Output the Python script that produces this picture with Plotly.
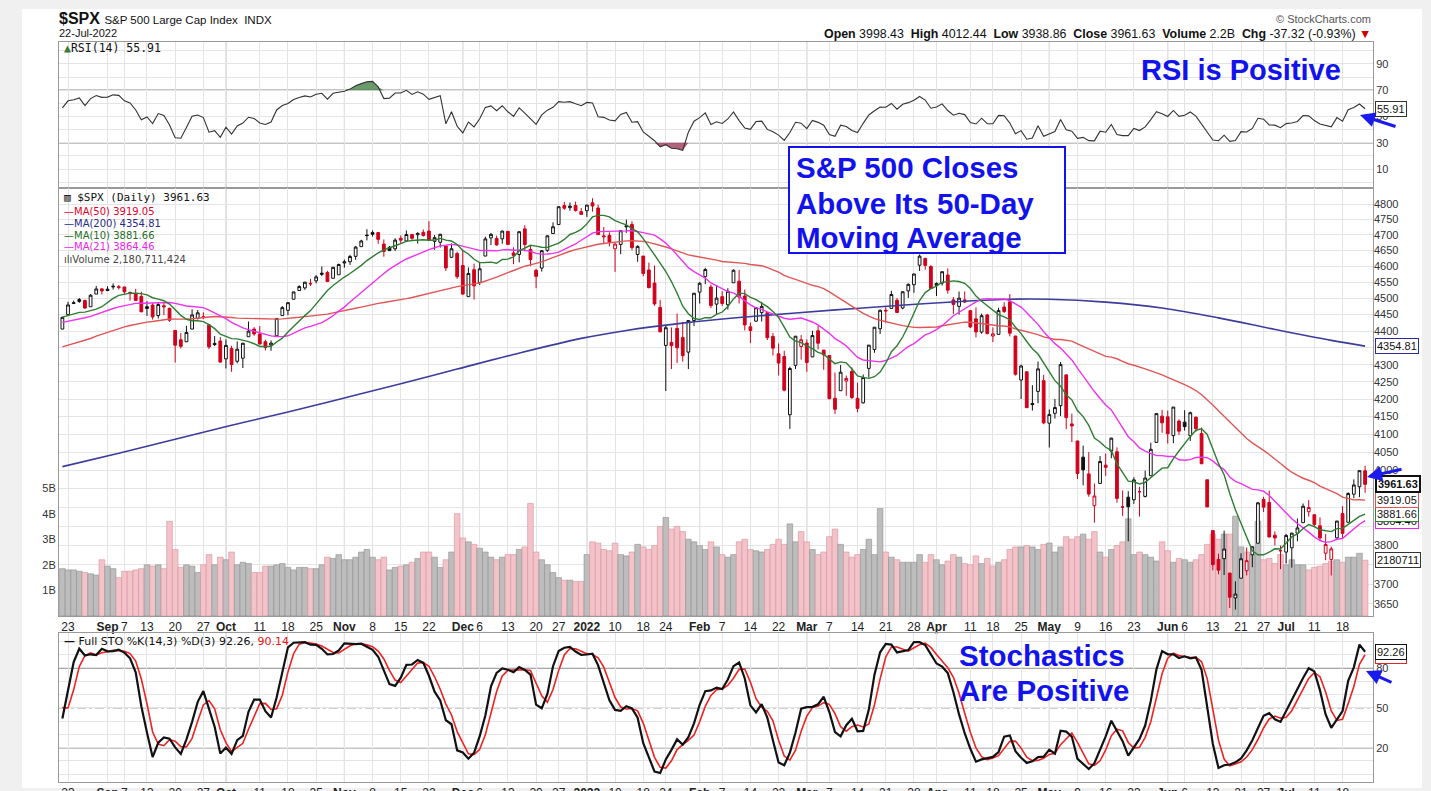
import numpy as np
import pandas as pd
import plotly.graph_objects as go

# ---------------- data ----------------
# warm-up closes (Jun 11 - Aug 19, 2021) used for the moving averages / oscillators
WARM_CLOSE = [4247.44, 4255.15, 4246.59, 4223.70, 4221.86, 4166.45, 4224.79, 4246.44, 4241.84, 4266.49,
              4280.70, 4290.61, 4291.80, 4297.50,
              4319.94, 4352.34, 4343.54, 4358.13, 4320.82, 4369.55, 4384.63, 4369.21, 4374.30, 4360.03,
              4327.16, 4258.49, 4323.06, 4358.69, 4367.48, 4411.79, 4422.30, 4401.46, 4400.64, 4419.15, 4395.26,
              4387.16, 4423.15, 4402.66, 4429.10, 4436.52, 4432.35, 4436.75, 4447.70, 4460.83, 4468.00,
              4479.71, 4448.08, 4400.27, 4405.80]
WARM_HIGH = [4415, 4415, 4429, 4412, 4422, 4424, 4418, 4430, 4440, 4438, 4445, 4449, 4461, 4468, 4480, 4470, 4454, 4418]
WARM_LOW = [4360, 4387, 4404, 4389, 4385, 4373, 4399, 4402, 4421, 4424, 4430, 4436, 4436, 4461, 4437, 4424, 4400, 4367]

# daily candles, Aug 20 2021 - Jul 22 2022
OPEN = [4406, 4450, 4484, 4490, 4493, 4474, 4513, 4529,
        4528, 4535, 4533, 4535, 4518, 4514, 4506, 4474, 4479, 4447, 4477, 4469, 4402, 4374, 4368, 4406, 4438, 4442, 4419, 4363, 4370,
        4317, 4348, 4310, 4319, 4383, 4406, 4391, 4368, 4358, 4386, 4447, 4463, 4497, 4524, 4532, 4546, 4554, 4578, 4580, 4562, 4573,
        4610, 4614, 4631, 4662, 4699, 4707, 4707, 4670, 4660, 4655, 4689, 4680, 4701, 4700, 4708, 4712, 4679, 4676, 4664, 4628, 4640,
        4602, 4505, 4589, 4549, 4632, 4690, 4688, 4687, 4711, 4642, 4637, 4719, 4653, 4587, 4594, 4650, 4704, 4733, 4795, 4788, 4795, 4775,
        4778, 4804, 4787, 4693, 4698, 4655, 4669, 4729, 4733, 4637, 4632, 4588, 4547, 4472, 4357, 4366, 4408, 4381, 4337, 4432,
        4519, 4567, 4535, 4482, 4505, 4480, 4548, 4553, 4507, 4413, 4430, 4456, 4456, 4384, 4332, 4324, 4155, 4298, 4354,
        4364, 4323, 4401, 4343, 4327, 4202, 4224, 4252, 4280, 4202, 4189, 4289, 4345, 4407, 4463, 4469, 4494, 4470, 4523, 4542, 4603, 4624, 4599,
        4540, 4547, 4572, 4495, 4475, 4495, 4462, 4437, 4397, 4449, 4385, 4390, 4473, 4489, 4385, 4255, 4279, 4187, 4222, 4253,
        4131, 4159, 4181, 4270, 4129, 4081, 4036, 3990, 3904, 3964, 4014, 4053, 4051, 3900, 3927, 3920, 3942, 3929, 3985, 4077, 4151,
        4149, 4096, 4137, 4134, 4096, 4148, 4102, 3974, 3838, 3763, 3765, 3728, 3665, 3715, 3734, 3775, 3805, 3921, 3913, 3826, 3786,
        3782, 3793, 3831, 3859, 3888, 3880, 3851, 3779, 3763, 3819, 3883, 3860, 3935, 3955, 3998.43]
HIGH = [4443, 4489, 4493, 4501, 4496, 4513, 4538, 4532,
        4537, 4546, 4541, 4535, 4521, 4529, 4520, 4491, 4485, 4486, 4486, 4471, 4403, 4394, 4416, 4466, 4464, 4457, 4420, 4385, 4382,
        4375, 4356, 4369, 4365, 4429, 4412, 4415, 4374, 4372, 4439, 4476, 4488, 4520, 4540, 4551, 4560, 4572, 4599, 4585, 4598, 4608,
        4621, 4636, 4664, 4684, 4718, 4714, 4708, 4685, 4664, 4689, 4698, 4714, 4701, 4708, 4717, 4744, 4699, 4703, 4664, 4672, 4646,
        4652, 4596, 4608, 4612, 4694, 4706, 4697, 4713, 4711, 4660, 4712, 4731, 4666, 4592, 4651, 4698, 4740, 4792, 4807, 4805, 4808, 4787,
        4797, 4819, 4798, 4725, 4708, 4673, 4715, 4749, 4744, 4666, 4632, 4611, 4602, 4495, 4418, 4411, 4453, 4428, 4432, 4516,
        4550, 4595, 4542, 4540, 4522, 4531, 4590, 4588, 4527, 4426, 4473, 4489, 4456, 4394, 4363, 4341, 4294, 4385, 4388,
        4375, 4401, 4416, 4343, 4327, 4277, 4299, 4268, 4292, 4247, 4271, 4358, 4412, 4465, 4473, 4523, 4501, 4521, 4546, 4576, 4637, 4627, 4603,
        4549, 4583, 4593, 4504, 4521, 4521, 4464, 4472, 4453, 4452, 4411, 4471, 4488, 4513, 4386, 4300, 4279, 4240, 4309, 4270,
        4170, 4200, 4308, 4270, 4158, 4081, 4068, 4050, 3964, 4039, 4046, 4090, 4063, 3945, 3943, 3981, 3955, 3999, 4076, 4159, 4169,
        4167, 4177, 4142, 4168, 4164, 4150, 4119, 3974, 3838, 3778, 3838, 3728, 3707, 3779, 3794, 3797, 3914, 3928, 3945, 3836, 3799,
        3829, 3832, 3870, 3910, 3919, 3880, 3873, 3829, 3796, 3864, 3903, 3940, 3975, 3999, 4012.44]
LOW = [4406, 4450, 4482, 4486, 4468, 4474, 4513, 4512,
       4522, 4527, 4527, 4513, 4493, 4493, 4457, 4446, 4435, 4438, 4448, 4428, 4306, 4348, 4367, 4406, 4435, 4436, 4346, 4355, 4306,
       4289, 4279, 4304, 4290, 4383, 4386, 4360, 4342, 4341, 4386, 4447, 4448, 4497, 4524, 4526, 4538, 4546, 4569, 4551, 4562, 4573,
       4595, 4604, 4620, 4662, 4682, 4694, 4671, 4630, 4648, 4648, 4673, 4679, 4684, 4672, 4694, 4680, 4652, 4659, 4585, 4626, 4560,
       4510, 4505, 4496, 4541, 4632, 4667, 4665, 4671, 4667, 4606, 4612, 4647, 4600, 4531, 4583, 4645, 4703, 4733, 4781, 4778, 4775, 4766,
       4758, 4775, 4699, 4672, 4663, 4582, 4638, 4706, 4650, 4614, 4568, 4531, 4477, 4396, 4223, 4287, 4305, 4309, 4287, 4415,
       4484, 4544, 4470, 4451, 4476, 4465, 4548, 4484, 4402, 4364, 4429, 4429, 4373, 4327, 4268, 4222, 4115, 4287, 4315,
       4279, 4322, 4345, 4285, 4199, 4157, 4224, 4209, 4200, 4162, 4187, 4262, 4335, 4391, 4425, 4469, 4456, 4466, 4501, 4517, 4585, 4589, 4530,
       4507, 4539, 4514, 4452, 4450, 4485, 4409, 4381, 4392, 4390, 4367, 4390, 4455, 4384, 4268, 4200, 4175, 4167, 4188, 4128,
       4063, 4144, 4151, 4114, 4078, 3976, 3959, 3928, 3859, 3964, 3984, 4033, 3912, 3877, 3810, 3909, 3875, 3926, 3985, 4077, 4104,
       4074, 4075, 4098, 4110, 4081, 4107, 4017, 3900, 3735, 3725, 3723, 3640, 3636, 3715, 3722, 3743, 3805, 3887, 3820, 3799, 3738,
       3753, 3742, 3810, 3859, 3875, 3847, 3812, 3761, 3722, 3817, 3819, 3860, 3924, 3927, 3938.86]
CLOSE = [4441.67, 4479.53, 4486.23, 4496.19, 4469.91, 4509.37, 4528.79, 4522.68,
         4524.09, 4536.95, 4535.43, 4520.03, 4514.07, 4493.28, 4458.58, 4468.73, 4443.05, 4480.70, 4473.75, 4432.99, 4357.73, 4354.19, 4395.64, 4448.98, 4455.48, 4443.11, 4352.63, 4359.46, 4307.54,
         4357.04, 4300.46, 4345.72, 4363.55, 4399.76, 4391.34, 4361.19, 4350.65, 4363.80, 4438.26, 4471.37, 4486.46, 4519.63, 4536.19, 4549.78, 4544.90, 4566.48, 4574.79, 4551.68, 4596.42, 4605.38,
         4613.67, 4630.65, 4660.57, 4680.06, 4697.53, 4701.70, 4685.25, 4646.71, 4649.27, 4682.85, 4682.80, 4700.90, 4688.67, 4704.54, 4697.96, 4682.94, 4690.70, 4701.46, 4594.62, 4655.27, 4567.00,
         4513.04, 4577.10, 4538.43, 4591.67, 4686.75, 4701.21, 4667.45, 4712.02, 4668.97, 4634.09, 4709.85, 4668.67, 4620.64, 4568.02, 4649.23, 4696.56, 4725.79, 4791.19, 4786.35, 4793.06, 4778.73, 4766.18,
         4796.56, 4793.54, 4700.58, 4696.05, 4677.03, 4670.29, 4713.07, 4726.35, 4659.03, 4662.85, 4577.11, 4532.76, 4482.73, 4397.94, 4410.13, 4356.45, 4349.93, 4326.51, 4431.85, 4515.55,
         4546.54, 4589.38, 4477.44, 4500.53, 4483.87, 4521.54, 4587.18, 4504.08, 4418.64, 4401.67, 4471.07, 4475.01, 4380.26, 4348.87, 4304.76, 4225.50, 4288.70, 4384.65, 4373.94,
         4306.26, 4386.54, 4363.49, 4328.87, 4201.09, 4170.70, 4277.88, 4259.52, 4204.31, 4173.11, 4262.45, 4357.86, 4411.67, 4463.12, 4461.18, 4511.61, 4456.24, 4520.16, 4543.06, 4575.52, 4631.60, 4602.45, 4530.41,
         4545.86, 4582.64, 4525.12, 4481.15, 4500.21, 4488.28, 4412.53, 4397.45, 4446.59, 4392.59, 4391.69, 4462.21, 4459.45, 4393.66, 4271.78, 4296.12, 4175.20, 4183.96, 4287.50, 4131.93,
         4155.38, 4175.48, 4300.17, 4146.87, 4123.34, 3991.24, 4001.05, 3935.18, 3930.08, 4023.89, 4008.01, 4088.85, 3923.68, 3900.79, 3901.36, 3973.75, 3941.48, 3978.73, 4057.84, 4158.24, 4132.15,
         4101.23, 4176.82, 4108.54, 4121.43, 4160.68, 4115.77, 4017.82, 3900.86, 3749.63, 3735.48, 3789.99, 3666.77, 3674.84, 3764.79, 3759.89, 3795.73, 3911.74, 3900.11, 3821.55, 3818.83, 3785.38,
         3825.33, 3831.39, 3845.08, 3902.62, 3899.38, 3854.43, 3818.80, 3801.78, 3790.38, 3863.16, 3830.85, 3936.69, 3959.90, 3998.95, 3961.63]
VOLUME_B = [1.85, 1.80, 1.80, 1.75, 1.70, 1.65, 1.60, 2.20,
            1.95, 1.85, 1.50, 1.75, 1.75, 1.80, 1.85, 2.00, 1.95, 2.00, 1.85, 3.70, 2.60, 1.90, 2.00, 1.95, 1.70, 2.00, 2.40, 2.00, 2.30,
            2.20, 2.50, 2.00, 2.10, 2.05, 1.70, 1.70, 1.95, 1.95, 2.00, 2.05, 1.90, 1.80, 1.90, 1.90, 1.85, 1.85, 2.00, 2.30, 2.25, 2.40,
            2.20, 2.20, 2.30, 2.50, 2.60, 2.30, 2.20, 2.30, 1.80, 1.90, 1.95, 2.00, 2.10, 2.25, 2.50, 2.50, 2.30, 1.90, 2.20, 2.50, 4.00,
            3.05, 2.90, 2.80, 2.65, 2.50, 2.30, 2.20, 2.30, 2.40, 2.40, 2.60, 2.70, 4.40, 2.50, 2.20, 2.00, 1.70, 1.50, 1.40, 1.40, 1.35, 1.35,
            2.40, 2.90, 2.85, 2.60, 2.55, 2.85, 2.40, 2.35, 2.50, 2.80, 2.70, 2.60, 2.75, 3.50, 3.85, 3.40, 3.50, 3.30, 3.00, 2.90,
            2.75, 2.60, 2.90, 2.70, 2.40, 2.30, 2.40, 2.90, 3.00, 2.60, 2.55, 2.50, 2.60, 2.80, 3.00, 2.80, 3.60, 2.90, 3.30,
            2.90, 2.60, 2.40, 2.50, 3.10, 3.40, 2.80, 2.50, 2.30, 2.40, 2.60, 3.00, 2.40, 4.20, 2.50, 2.30, 2.20, 2.10, 2.10, 2.10, 2.40, 2.10, 2.40,
            2.20, 2.00, 2.15, 2.40, 2.30, 2.05, 2.00, 2.35, 2.05, 2.25, 1.95, 2.10, 2.20, 2.60, 2.70, 2.70, 2.75, 2.70, 2.60, 2.80,
            2.85, 2.50, 2.70, 3.10, 3.00, 3.10, 3.20, 3.00, 3.30, 2.50, 2.30, 2.60, 2.75, 2.90, 3.80, 2.40, 2.50, 2.40, 2.30, 2.15, 2.90,
            2.55, 2.10, 2.25, 2.20, 2.10, 2.20, 2.40, 2.80, 3.20, 3.00, 3.20, 3.20, 3.90, 2.70, 2.50, 2.40, 3.70, 2.20, 2.25, 2.05, 2.40,
            2.00, 2.20, 2.00, 2.00, 1.80, 1.90, 1.95, 2.05, 2.15, 2.20, 2.10, 2.30, 2.30, 2.45, 2.18]
# 200-day average at selected bars
MA200_IDX = [0, 10, 20, 30, 40, 50, 60, 70, 80, 92, 100, 110, 120, 130, 140, 150, 160, 168, 175, 185, 195, 205, 215, 225, 231]
MA200_VAL = [4010, 4047, 4086, 4125, 4163, 4203, 4244, 4287, 4330, 4378, 4402, 4424, 4441, 4455, 4468, 4480, 4491, 4497,
             4497, 4488, 4470, 4440, 4405, 4372, 4354.81]

TICK_IDX = [1, 8, 11, 15, 20, 25, 29, 35, 40, 45, 50, 55, 60, 65, 71, 74, 79, 84, 88, 93, 98, 103, 107,
            113, 117, 122, 127, 132, 136, 141, 146, 151, 155, 161, 165, 170, 175, 180, 185, 190,
            196, 199, 204, 209, 213, 217, 222, 227]
TICK_TEXT = ["23", "<b>Sep</b>", "7", "13", "20", "27", "<b>Oct</b>", "11", "18", "25", "<b>Nov</b>", "8", "15", "22",
             "<b>Dec</b>", "6", "13", "20", "27", "<b>2022</b>", "10", "18", "24", "<b>Feb</b>", "7", "14", "22",
             "<b>Mar</b>", "7", "14", "21", "28", "<b>Apr</b>", "11", "18", "25", "<b>May</b>", "9", "16", "23",
             "<b>Jun</b>", "6", "13", "21", "27", "<b>Jul</b>", "11", "18"]
MONTH_IDX = [8, 29, 50, 71, 93, 113, 132, 155, 175, 196, 217]
PRICE_TICKS = list(range(3650, 4801, 50))
PRICE_TICKS_HIDDEN = [3750, 3850, 3900, 3950, 4350]   # covered by value tags in the original

# ---------------- derived indicators ----------------
nw = len(WARM_CLOSE)
n = len(CLOSE)
xi = np.arange(n)
c_all = pd.Series(WARM_CLOSE + CLOSE, dtype=float)
h_all = pd.Series([np.nan] * (nw - len(WARM_HIGH)) + WARM_HIGH + HIGH, dtype=float)
l_all = pd.Series([np.nan] * (nw - len(WARM_LOW)) + WARM_LOW + LOW, dtype=float)

ma10 = c_all.rolling(10).mean().values[nw:]
ma21 = c_all.rolling(21).mean().values[nw:]
ma50 = c_all.rolling(50).mean().values[nw:]

d = np.diff(c_all.values)
gain = np.clip(d, 0, None)
loss = np.clip(-d, 0, None)
ag, al = gain[:14].mean(), loss[:14].mean()
rsi_all = np.full(len(c_all), np.nan)
for i in range(14, len(d)):
    ag = (ag * 13 + gain[i]) / 14
    al = (al * 13 + loss[i]) / 14
    rsi_all[i + 1] = 100 - 100 / (1 + ag / al)
rsi = rsi_all[nw:]

hh = h_all.rolling(14).max()
ll = l_all.rolling(14).min()
fastk = 100 * (c_all - ll) / (hh - ll)
fullk = fastk.rolling(3).mean()
fulld = fullk.rolling(3).mean()
stk = fullk.values[nw:]
std = fulld.values[nw:]

prev_close = np.array([WARM_CLOSE[-1]] + CLOSE[:-1])
C = np.array(CLOSE)
up_day = C >= prev_close

# ---------------- figure ----------------
L, R, T, B = 59, 1373, 42, 782
W_, H_ = R - L, B - T
def px(x):
    return (x - L) / W_
def py(y):
    return (B - y) / H_

XR = [-0.6, 232.4]
FONT = "Liberation Sans, Arial, sans-serif"
RED = "#d0021b"
BLUE_TXT = "#1212ee"

fig = go.Figure()

# volume (base axis of price panel)
vcol = np.where(up_day, "#bdbdbd", "#f3c3ca")
vline = np.where(up_day, "#8e8e8e", "#d9909c")
fig.add_trace(go.Bar(x=xi, y=np.array(VOLUME_B) * 1e9, width=1.0, marker=dict(color=vcol, line=dict(color=vline, width=0.6)),
                     xaxis="x2", yaxis="y2", showlegend=False, hoverinfo="skip"))

# MAs
fig.add_trace(go.Scatter(x=MA200_IDX, y=MA200_VAL, mode="lines", line=dict(color="#3c3c9c", width=1.6, shape="spline"),
                         xaxis="x2", yaxis="y3", showlegend=False))
fig.add_trace(go.Scatter(x=xi, y=ma50, mode="lines", line=dict(color="#e05555", width=1.4), xaxis="x2", yaxis="y3", showlegend=False))
fig.add_trace(go.Scatter(x=xi, y=ma21, mode="lines", line=dict(color="#ee33ee", width=1.4), xaxis="x2", yaxis="y3", showlegend=False))
fig.add_trace(go.Scatter(x=xi, y=ma10, mode="lines", line=dict(color="#2e7d32", width=1.4), xaxis="x2", yaxis="y3", showlegend=False))

# candles: black (close >= previous close) and red (close < previous close)
O_, H2, L2 = np.array(OPEN), np.array(HIGH), np.array(LOW)
for mask, col in [(up_day, "#111111"), (~up_day, RED)]:
    fig.add_trace(go.Candlestick(
        x=xi[mask], open=O_[mask], high=H2[mask], low=L2[mask], close=C[mask],
        increasing=dict(line=dict(color=col, width=1), fillcolor="white"),
        decreasing=dict(line=dict(color=col, width=1), fillcolor=col),
        xaxis="x2", yaxis="y3", showlegend=False, hoverinfo="skip", whiskerwidth=0))

# RSI
rsi_hi = np.maximum(rsi, 70)
rsi_lo = np.minimum(rsi, 30)
fig.add_trace(go.Scatter(x=xi, y=np.full(n, 70.0), mode="lines", line=dict(width=0), xaxis="x", yaxis="y", showlegend=False, hoverinfo="skip"))
fig.add_trace(go.Scatter(x=xi, y=rsi_hi, mode="lines", line=dict(width=0), fill="tonexty", fillcolor="rgba(70,130,70,0.8)",
                         xaxis="x", yaxis="y", showlegend=False, hoverinfo="skip"))
fig.add_trace(go.Scatter(x=xi, y=np.full(n, 30.0), mode="lines", line=dict(width=0), xaxis="x", yaxis="y", showlegend=False, hoverinfo="skip"))
fig.add_trace(go.Scatter(x=xi, y=rsi_lo, mode="lines", line=dict(width=0), fill="tonexty", fillcolor="rgba(160,60,90,0.8)",
                         xaxis="x", yaxis="y", showlegend=False, hoverinfo="skip"))
fig.add_trace(go.Scatter(x=xi, y=rsi, mode="lines", line=dict(color="#333333", width=1.1), xaxis="x", yaxis="y", showlegend=False))

# Stochastics
fig.add_trace(go.Scatter(x=xi, y=std, mode="lines", line=dict(color="#ee2222", width=1.6), xaxis="x3", yaxis="y4", showlegend=False))
fig.add_trace(go.Scatter(x=xi, y=stk, mode="lines", line=dict(color="#111111", width=2.2), xaxis="x3", yaxis="y4", showlegend=False))

# ---------------- axes ----------------
d_rsi = [(B - 188) / H_, 1.0]
d_px = [(B - 616) / H_, (B - 188) / H_]
d_st = [0.0, (B - 633) / H_]

common_x = dict(range=XR, tickmode="array", tickvals=TICK_IDX, ticktext=TICK_TEXT, showgrid=True, gridcolor="#e4e4e4",
                gridwidth=1, zeroline=False, showline=True, mirror=True, linecolor="#9a9a9a", linewidth=1,
                ticks="", automargin=False, tickfont=dict(family=FONT, size=12, color="#222"))
tick_font = dict(family=FONT, size=11, color="#333")

rsi_vals = list(range(0, 101, 10))
st_vals = list(range(0, 101, 10))

fig.update_layout(
    width=1431, height=791, margin=dict(l=L, r=1431 - R, t=T, b=791 - B, autoexpand=False),
    paper_bgcolor="#f0f0f0", plot_bgcolor="white", showlegend=False, boxgap=0.3,
    xaxis=dict(common_x, anchor="y", showticklabels=False),
    yaxis=dict(domain=d_rsi, range=[-4.4, 106.7], side="right", tickmode="array", tickvals=rsi_vals,
               ticktext=["" if v not in (10, 30, 50, 70, 90) else str(v) for v in rsi_vals],
               showgrid=True, gridcolor="#e4e4e4", zeroline=False, showline=True, mirror=True, linecolor="#9a9a9a",
               tickfont=tick_font, ticks="", automargin=False),
    xaxis2=dict(common_x, anchor="y2", rangeslider=dict(visible=False)),
    yaxis2=dict(domain=d_px, range=[0, 16.73e9], side="left", tickmode="array", tickvals=[1e9, 2e9, 3e9, 4e9, 5e9],
                ticktext=["1B", "2B", "3B", "4B", "5B"], showgrid=False, zeroline=False, showline=True, mirror=True,
                linecolor="#9a9a9a", tickfont=tick_font, ticks="", automargin=False),
    yaxis3=dict(overlaying="y2", anchor="x2", side="right", type="log", range=[np.log10(3620), np.log10(4853)],
                tickmode="array", tickvals=PRICE_TICKS,
                ticktext=["" if v in PRICE_TICKS_HIDDEN else str(v) for v in PRICE_TICKS], showgrid=True,
                gridcolor="#e4e4e4", zeroline=False, showline=False, tickfont=tick_font, ticks="", automargin=False),
    xaxis3=dict(common_x, anchor="y4"),
    yaxis4=dict(domain=d_st, range=[-5.8, 106.25], side="right", tickmode="array", tickvals=st_vals,
                ticktext=["" if v not in (20, 50, 80) else str(v) for v in st_vals], showgrid=True, gridcolor="#e4e4e4",
                zeroline=False, showline=True, mirror=True, linecolor="#9a9a9a", tickfont=tick_font, ticks="",
                automargin=False),
)

shapes = []
# white chart background
shapes.append(dict(type="rect", xref="paper", yref="paper", x0=px(22), x1=px(1422), y0=py(788), y1=py(9),
                   fillcolor="white", line=dict(width=0), layer="below"))
# month lines
for m in MONTH_IDX:
    for yr, xr in [("y domain", "x"), ("y2 domain", "x2"), ("y4 domain", "x3")]:
        shapes.append(dict(type="line", xref=xr, yref=yr, x0=m, x1=m, y0=0, y1=1, line=dict(color="#b4b4b4", width=1), layer="below"))
# RSI / stochastic reference lines
for yv, dash in [(70, "solid"), (30, "solid"), (50, "dashdot")]:
    shapes.append(dict(type="line", xref="x domain", yref="y", x0=0, x1=1, y0=yv, y1=yv,
                       line=dict(color="#8a8a8a" if dash == "solid" else "#a0a0a0", width=1.6 if dash == "solid" else 1.2, dash=dash), layer="below"))
for yv, dash in [(80, "solid"), (20, "solid"), (50, "dashdot")]:
    shapes.append(dict(type="line", xref="x3 domain", yref="y4", x0=0, x1=1, y0=yv, y1=yv,
                       line=dict(color="#8a8a8a" if dash == "solid" else "#a0a0a0", width=1.6 if dash == "solid" else 1.2, dash=dash), layer="below"))
# call-out box
shapes.append(dict(type="rect", xref="paper", yref="paper", x0=px(789), x1=px(1065), y0=py(253), y1=py(147),
                   fillcolor="white", line=dict(color="#1212ee", width=2), layer="above"))
fig.update_layout(shapes=shapes)

ann = []
def text(x, y, s, size=11, color="#111", family=FONT, xanchor="left", yanchor="middle", **kw):
    ann.append(dict(xref="paper", yref="paper", x=px(x), y=py(y), text=s, showarrow=False, xanchor=xanchor, yanchor=yanchor,
                    font=dict(family=family, size=size, color=color), **kw))

# header
text(57, 19, "<b>$SPX</b> <span style='font-size:11.5px'>S&P 500 Large Cap Index  INDX</span>", size=16)
text(57, 33, "22-Jul-2022", size=11)
text(1373, 19, "© StockCharts.com", size=11, color="#555", xanchor="right")
text(1373, 34, "<b>Open</b> 3998.43  <b>High</b> 4012.44  <b>Low</b> 3938.86  <b>Close</b> 3961.63  <b>Volume</b> 2.2B  "
              "<b>Chg</b> -37.32 (-0.93%) <span style='color:#cc0000'>▼</span>", size=12.4, xanchor="right")

# panel legends
MONO = "DejaVu Sans Mono, monospace"
SANS = "DejaVu Sans, Verdana, sans-serif"
text(62, 48, "<span style='color:#3a7a3a'>▲</span>RSI(14) 55.91", size=11.5, family=MONO)
text(62, 198, "▥ $SPX (Daily) 3961.63", size=11, family=MONO)
text(62, 211, "—MA(50) 3919.05", size=10, family=SANS, color="#e8002a")
text(62, 223, "—MA(200) 4354.81", size=10, family=SANS, color="#2a2a8a")
text(62, 235, "—MA(10) 3881.66", size=10, family=SANS, color="#1f6e1f")
text(62, 247, "—MA(21) 3864.46", size=10, family=SANS, color="#ee22ee")
text(62, 259, "ılıVolume 2,180,711,424", size=10, family=SANS, color="#444")
text(62, 641, "<b>—</b> Full STO %K(14,3) %D(3) 92.26, <span style='color:#ee1111'>90.14</span>", size=11, family=SANS)

# value tags on the right axis
def tag(yref, yv, s, border, bw=1, bold=False):
    ann.append(dict(xref="paper", yref=yref, x=px(1375), y=yv, text=("<b>%s</b>" % s) if bold else s, showarrow=False,
                    xanchor="left", yanchor="middle", bgcolor="white", bordercolor=border, borderwidth=bw, borderpad=1,
                    font=dict(family=FONT, size=11, color="#111")))
tag("y", 55.91, "55.91", "#333")
tag("y3", np.log10(4354.81), "4354.81", "#2a2a9a")
tag("y3", np.log10(3864.46), "3864.46", "#ee22ee")
tag("y3", np.log10(3881.66), "3881.66", "#2e7d32")
tag("y3", np.log10(3919.05), "3919.05", "#e05555")
tag("y3", np.log10(3961.63), "3961.63", "#111", bw=2, bold=True)
tag("y2", 2.180711424e9, "2180711", "#333")
tag("y4", 89.0, "90.14", "#ee2222")
tag("y4", 92.26, "92.26", "#111")

# call-out texts
text(1241, 70, "<b>RSI is Positive</b>", size=29, color=BLUE_TXT, xanchor="center")
for yy, s in [(167, "S&P 500 Closes"), (203, "Above Its 50-Day"), (238, "Moving Average")]:
    text(794, yy, "<b>%s</b>" % s, size=29.5, color=BLUE_TXT)
for yy, s in [(655, "Stochastics"), (690, "Are Positive")]:
    text(957, yy, "<b>%s</b>" % s, size=29.5, color=BLUE_TXT)

# arrows
for hx, hy, ax, ay in [(1360, 115, 37, 12), (1367, 477, 36, -8), (1366, 671, 27, 12)]:
    ann.append(dict(xref="paper", yref="paper", x=px(hx), y=py(hy), ax=ax, ay=ay, text="", showarrow=True,
                    arrowhead=2, arrowsize=1.0, arrowwidth=3, arrowcolor="#1a1aee"))

fig.update_layout(annotations=ann)
fig.write_html("out.html")
